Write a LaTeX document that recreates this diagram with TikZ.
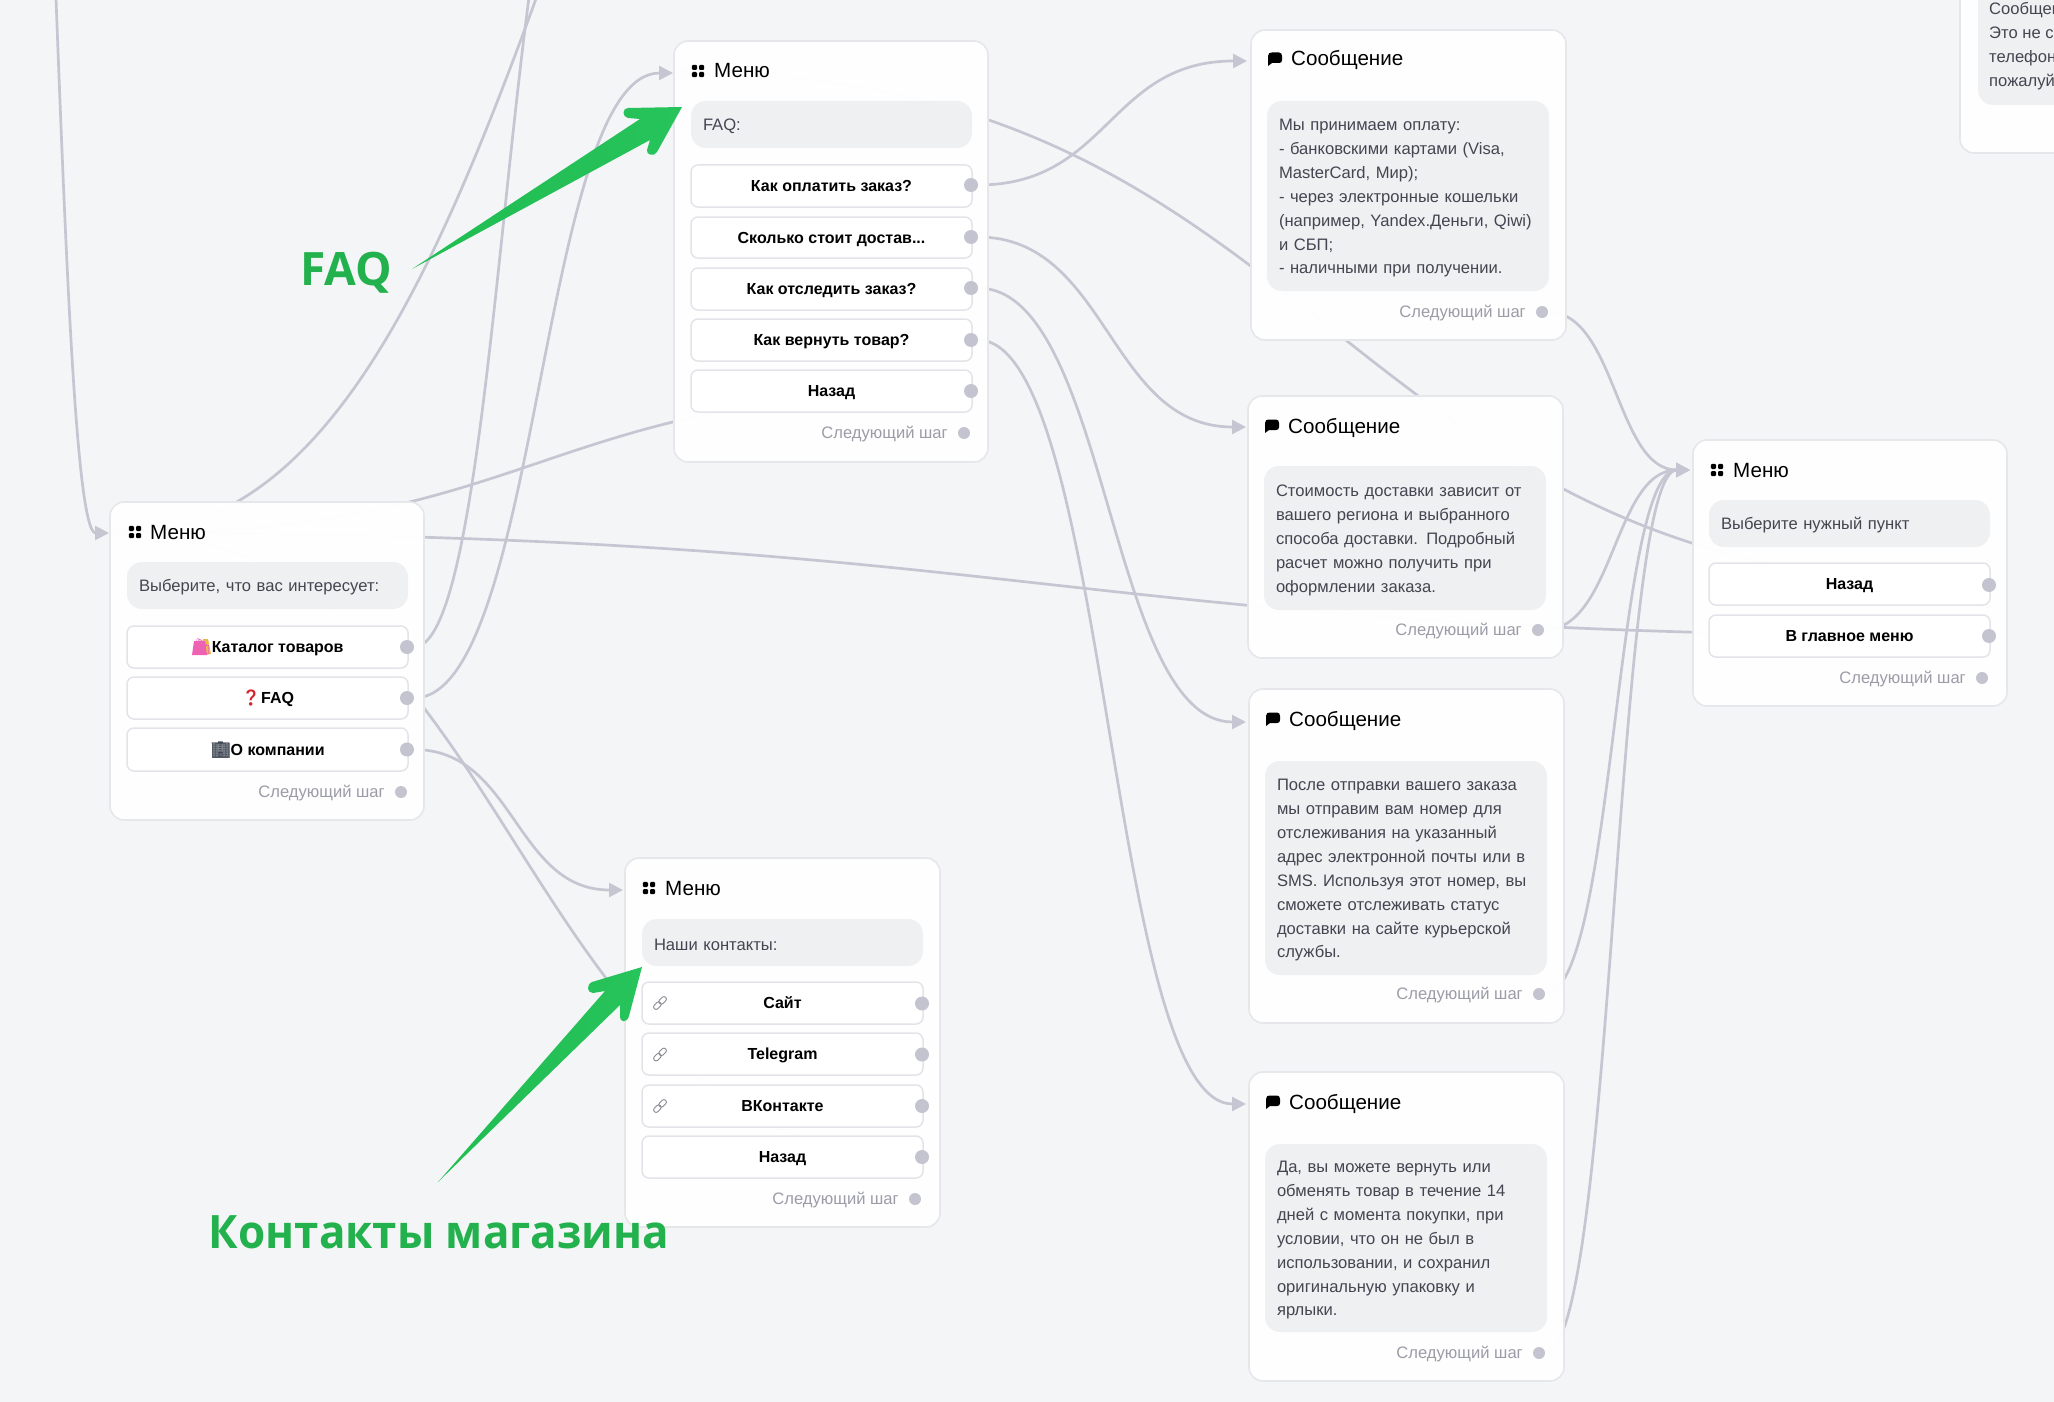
\documentclass[tikz,border=0pt]{standalone}
\usepackage{fontspec}
\setmainfont{Liberation Sans}
\newfontfamily\labelfont{Open Sans}
\newfontfamily\emojifont{Noto Emoji}
\usetikzlibrary{arrows.meta,calc}
\definecolor{pagebg}{HTML}{F4F5F7}
\definecolor{cardline}{HTML}{E6E7EB}
\definecolor{greyfill}{HTML}{EFF0F2}
\definecolor{btnline}{HTML}{E3E4E9}
\definecolor{wire}{HTML}{C5C6D2}
\definecolor{dotc}{HTML}{C4C4D0}
\definecolor{bodytext}{HTML}{454552}
\definecolor{nexttext}{HTML}{9C9CA8}
\definecolor{greenlab}{HTML}{22B14C}
\definecolor{greenA}{HTML}{20BD52}
\definecolor{greenM}{HTML}{19A948}
\definecolor{greenB}{HTML}{27C35B}
\definecolor{linkc}{HTML}{8A8A94}
\definecolor{bagpink}{HTML}{EE62B4}
\definecolor{bagyellow}{HTML}{E8B84A}
\definecolor{bldgrey}{HTML}{7C828C}
\pgfdeclarelayer{bglayer}
\pgfdeclarelayer{wirelayer}
\pgfsetlayers{bglayer,wirelayer,main}
\tikzset{
  cardn/.style={draw=cardline,line width=1.6pt,fill=white,fill opacity=.97,rounded corners=14pt,inner sep=0pt,outer sep=0pt},
  greyn/.style={fill=greyfill,rounded corners=15pt,inner ysep=0pt,inner xsep=12pt,outer sep=0pt,align=left,text=bodytext,font=\fontsize{16.6}{23.9}\selectfont,text width=\bw pt-24pt,execute at begin node={\rule{0pt}{16pt}}},
  btnn/.style={draw=btnline,line width=1.5pt,fill=white,rounded corners=7pt,inner sep=0pt,outer sep=0pt,font=\fontsize{16}{20}\selectfont\bfseries,text=black,text height=11.5pt,text depth=0pt},
  btnlab/.style={inner sep=0pt,outer sep=0pt,font=\fontsize{16}{20}\selectfont\bfseries,text=black,text height=11.5pt,text depth=0pt},
  dotn/.style={circle,fill=dotc,minimum size=14pt,inner sep=0pt,outer sep=0pt},
  nextdot/.style={circle,fill=dotc,minimum size=12pt,inner sep=0pt,outer sep=0pt},
  nextlab/.style={anchor=east,yshift=-1.5pt,text=nexttext,inner sep=0pt,font=\fontsize{16.6}{20}\selectfont},
  titlen/.style={anchor=west,inner sep=0pt,text=black,text height=14pt,text depth=0pt,font=\fontsize{20.6}{24}\selectfont},
  cornertxt/.style={anchor=base west,inner sep=0pt,text=bodytext,font=\fontsize{16.6}{20}\selectfont},
  wirep/.style={draw=wire,line width=2.7pt,line cap=round,line join=round},
  arr/.style={-{Triangle[length=14pt,width=14pt,fill=wire]}},
  greenarrow/.style={draw=none,left color=greenA,middle color=greenM,right color=greenB},
  greentxt/.style={text=greenlab,inner sep=0pt,font=\labelfont\bfseries\fontsize{46}{50}\selectfont}
}
\newcommand\boxn[7]{%
  \pgfmathsetmacro\bw{#5-#3}\pgfmathsetmacro\bh{#6-#4}%
  \node[#1,anchor=north west,minimum width=\bw pt,minimum height=\bh pt] (#2) at (#3,#4) {#7};}
% every flow line: horizontal tangents, both control points at the middle abscissa
\newcommand\wire[3][]{%
  \coordinate (wm) at ($(#2)!.5!(#3)$);
  \draw[wirep,#1] (#2) .. controls (wm |- #2) and (wm |- #3) .. (#3);}
\newcommand\menuicon[2]{%
  \foreach \ix in {-3.6,3.6}\foreach \iy in {-3.6,3.6}
    \fill[black,rounded corners=1.2pt] ({#1+\ix-2.6},{#2+\iy-2.6}) rectangle ({#1+\ix+2.6},{#2+\iy+2.6});}
\newcommand\msgicon[2]{%
  \fill[black] ({#1-7},{#2-3}) .. controls ({#1-7},{#2-6}) and ({#1-5},{#2-6.5}) .. ({#1-3},{#2-6.5}) -- ({#1+4},{#2-6.5}) .. controls ({#1+6},{#2-6.5}) and ({#1+7},{#2-5}) .. ({#1+7},{#2-3}) -- ({#1+7},{#2+1}) .. controls ({#1+7},{#2+3}) and ({#1+6},{#2+4}) .. ({#1+4},{#2+4}) -- ({#1-3},{#2+4}) -- ({#1-7},{#2+7}) -- cycle;}
\newcommand\linkicon[2]{%
  \begin{scope}[shift={(#1,#2)},rotate=45]
    \draw[linkc,line width=.9pt,rounded corners=2.4pt] (-8,-2.5) rectangle (0.6,2.5);
    \draw[linkc,line width=.9pt,rounded corners=2.4pt] (-0.6,-2.5) rectangle (8,2.5);
  \end{scope}}
\begin{document}
\begin{tikzpicture}[x=1pt,y=-1pt]
\useasboundingbox (0,0) rectangle (2054,1402);
\begin{pgfonlayer}{bglayer}
  \fill[pagebg] (0,0) rectangle (2054,1402);
\end{pgfonlayer}

% ---------- corner card (cut by the page)
\begin{scope}
  \clip (1900,0) rectangle (2054,200);
  \boxn{cardn}{cardX}{1960}{-30}{2090}{153}{}
  \fill[greyfill,rounded corners=15pt] (1978,-30) rectangle (2090,105);
  \node[cornertxt] (lx1) at (1989,15) {Сообщен};
  \node[cornertxt] (lx2) at (1989,39) {Это не с};
  \node[cornertxt] (lx3) at (1989,63) {телефон};
  \node[cornertxt] (lx4) at (1989,87) {пожалуй};
\end{scope}

% ---------- card A
\boxn{cardn}{cardA}{110}{502}{424}{820}{}
\menuicon{135}{532}
\node[titlen] (tA) at (150,532) {Меню};
\boxn{greyn}{gA}{127}{562}{408}{609}{Выберите, что вас интересует:}
\boxn{btnn}{bA1}{127}{626}{408}{668}{}
\fill[bagyellow] (203,639) -- (208,639) -- (211,654) -- (205,655) -- cycle;
\fill[bagpink] (194,641) -- (205,641) -- (207,655) -- (192,655) -- cycle;
\node[btnlab] (xA1) at (bA1.center) {{\emojifont\textcolor{bagpink}{🛍}}Каталог товаров};
\boxn{btnn}{bA2}{127}{677}{408}{719}{{\emojifont\textcolor[HTML]{D8232A}{❓}}FAQ}
\boxn{btnn}{bA3}{127}{728}{408}{771}{}
\fill[bldgrey] (212,743) rectangle (230,758);
\node[btnlab] (xA3) at (bA3.center) {{\emojifont\textcolor[HTML]{3E444E}{🏢}}О компании};
\node[dotn] (dA1) at (407,647) {};
\node[dotn] (dA2) at (407,698) {};
\node[dotn] (dA3) at (407,749.5) {};
\node[nextdot] (nA) at (401,792) {};
\node[nextlab] (lA) at (385,792) {Следующий шаг};

% ---------- card FAQ
\boxn{cardn}{cardF}{674}{41}{988}{462}{}
\menuicon{698}{71}
\node[titlen] (tF) at (714,71) {Меню};
\boxn{greyn}{gF}{691}{101}{972}{148}{FAQ:}
\boxn{btnn}{bF1}{691}{165}{972}{207}{Как оплатить заказ?}
\boxn{btnn}{bF2}{691}{217}{972}{258}{Сколько стоит достав...\hspace{5pt}}
\boxn{btnn}{bF3}{691}{268}{972}{310}{Как отследить заказ?}
\boxn{btnn}{bF4}{691}{319}{972}{361}{Как вернуть товар?}
\boxn{btnn}{bF5}{691}{370}{972}{412}{Назад}
\node[dotn] (dF1) at (971,185) {};
\node[dotn] (dF2) at (971,237) {};
\node[dotn] (dF3) at (971,288) {};
\node[dotn] (dF4) at (971,340) {};
\node[dotn] (dF5) at (971,391) {};
\node[nextdot] (nF) at (964,433) {};
\node[nextlab] (lF) at (948,433) {Следующий шаг};

% ---------- card contacts
\boxn{cardn}{cardC}{625}{858}{940}{1227}{}
\menuicon{649}{888}
\node[titlen] (tC) at (665,888) {Меню};
\boxn{greyn}{gC}{642}{919}{923}{966}{Наши контакты:}
\boxn{btnn}{bC1}{642}{982}{923}{1024}{Сайт}
\boxn{btnn}{bC2}{642}{1033}{923}{1075}{Telegram}
\boxn{btnn}{bC3}{642}{1085}{923}{1127}{ВКонтакте}
\boxn{btnn}{bC4}{642}{1136}{923}{1178}{Назад}
\linkicon{660}{1003}
\linkicon{660}{1054.5}
\linkicon{660}{1106}
\node[dotn] (dC1) at (922,1003.5) {};
\node[dotn] (dC2) at (922,1054.5) {};
\node[dotn] (dC3) at (922,1106) {};
\node[dotn] (dC4) at (922,1157) {};
\node[nextdot] (nC) at (915,1199) {};
\node[nextlab] (lC) at (899,1199) {Следующий шаг};

% ---------- final menu
\boxn{cardn}{cardM}{1693}{440}{2007}{706}{}
\menuicon{1717}{470}
\node[titlen] (tM) at (1733,470) {Меню};
\boxn{greyn}{gM}{1709}{500}{1990}{547}{Выберите нужный пункт}
\boxn{btnn}{bM1}{1709}{563}{1990}{605}{Назад}
\boxn{btnn}{bM2}{1709}{615}{1990}{657}{В главное меню}
\node[dotn] (dM1) at (1989,585) {};
\node[dotn] (dM2) at (1989,636) {};
\node[nextdot] (nM) at (1982,678) {};
\node[nextlab] (lM) at (1966,678) {Следующий шаг};

% ---------- messages
\boxn{cardn}{card1}{1251}{30}{1566}{340}{}
\msgicon{1275}{59}
\node[titlen] (t1) at (1291,59) {Сообщение};
\boxn{greyn}{g1}{1267}{101}{1549}{291}{Мы принимаем оплату:\\- банковскими картами (Visa,\\MasterCard, Мир);\\- через электронные кошельки\\(например, Yandex.Деньги, Qiwi)\\и СБП;\\- наличными при получении.}
\node[nextdot] (n1) at (1542,312) {};
\node[nextlab] (l1) at (1526,312) {Следующий шаг};

\boxn{cardn}{card2}{1248}{396}{1563}{658}{}
\msgicon{1272}{426}
\node[titlen] (t2) at (1288,426) {Сообщение};
\boxn{greyn}{g2}{1264}{466}{1546}{610}{Стоимость доставки зависит от\\вашего региона и выбранного\\способа доставки. Подробный\\расчет можно получить при\\оформлении заказа.}
\node[nextdot] (n2) at (1538,630) {};
\node[nextlab] (l2) at (1522,630) {Следующий шаг};

\boxn{cardn}{card3}{1249}{689}{1564}{1023}{}
\msgicon{1273}{719}
\node[titlen] (t3) at (1289,719) {Сообщение};
\boxn{greyn}{g3}{1265}{761}{1547}{975}{После отправки вашего заказа\\мы отправим вам номер для\\отслеживания на указанный\\адрес электронной почты или в\\SMS. Используя этот номер, вы\\сможете отслеживать статус\\доставки на сайте курьерской\\службы.}
\node[nextdot] (n3) at (1539,994) {};
\node[nextlab] (l3) at (1523,994) {Следующий шаг};

\boxn{cardn}{card4}{1249}{1072}{1564}{1381}{}
\msgicon{1273}{1102}
\node[titlen] (t4) at (1289,1102) {Сообщение};
\boxn{greyn}{g4}{1265}{1144}{1547}{1332}{Да, вы можете вернуть или\\обменять товар в течение 14\\дней с момента покупки, при\\условии, что он не был в\\использовании, и сохранил\\оригинальную упаковку и\\ярлыки.}
\node[nextdot] (n4) at (1539,1353) {};
\node[nextlab] (l4) at (1523,1353) {Следующий шаг};

% ---------- connector ends
\coordinate (inA) at (109,533);
\coordinate (inF) at (673,73);
\coordinate (inC) at (623,890);
\coordinate (in1) at (1247,61);
\coordinate (in2) at (1246,427);
\coordinate (in3) at (1246,722);
\coordinate (in4) at (1246,1104);
\coordinate (inM) at (1690,470);
\coordinate (top1) at (0,-700);
\coordinate (top2) at (1031,-733);
\coordinate (top3) at (603,-247);

% ---------- connectors
\begin{pgfonlayer}{wirelayer}
\wire[arr]{top1}{inA}
\wire[arr]{top2}{inA}
\wire{dA1}{top3}
\wire[arr]{dA2}{inF}
\wire[arr]{dA3}{inC}
\wire[arr]{dC4}{inA}
\wire[arr]{dF5}{inA}
\wire[arr]{dM2}{inA}
\wire[arr]{dM1}{inF}
\wire[arr]{dF1}{in1}
\wire[arr]{dF2}{in2}
\wire[arr]{dF3}{in3}
\wire[arr]{dF4}{in4}
\wire[arr]{n1}{inM}
\wire[arr]{n2}{inM}
\wire[arr]{n3}{inM}
\wire[arr]{n4}{inM}
\end{pgfonlayer}

% ---------- green annotations
\shade[greenarrow] (412,269) -- (640,119) -- (628,118) .. controls (622,117) and (622,108) .. (628,108) -- (682,107) -- (657,152) .. controls (654,157) and (646,155) .. (647,150) -- (650,140) -- cycle;
\shade[greenarrow] (438,1182) -- (605,991) -- (593,993) .. controls (587,993) and (586,985) .. (592,982) -- (642,967) -- (629,1016) .. controls (627,1023) and (620,1023) .. (620,1016) -- (620,1005) -- cycle;
\node[greentxt] (faqlab) at (346,273) {FAQ};
\node[greentxt] (contlab) at (439,1232) {\scalebox{.956}[1]{Контакты магазина}};
\end{tikzpicture}
\end{document}
